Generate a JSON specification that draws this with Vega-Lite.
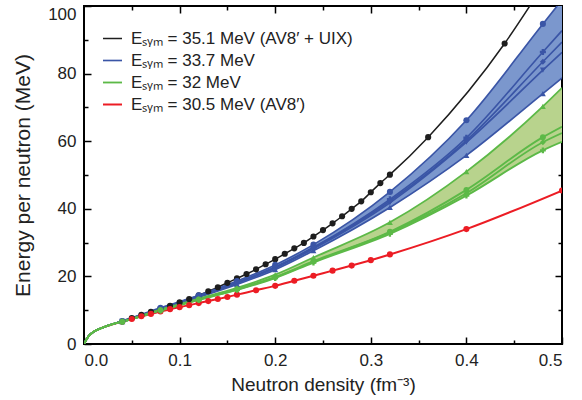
{
  "$schema": "https://vega.github.io/schema/vega-lite/v6.json",
  "width": 478,
  "height": 338,
  "autosize": "none",
  "padding": {"left": 84, "top": 6, "right": 20, "bottom": 56},
  "config": {
    "font": "Liberation Sans",
    "view": {"stroke": "#000000", "strokeWidth": 2},
    "axis": {"domain": false, "grid": false, "tickColor": "#000000", "tickWidth": 1.5, "labelColor": "#222222", "titleColor": "#222222", "labelFontSize": 17, "titleFontSize": 19, "titleFontWeight": "normal", "labelFont": "Liberation Sans", "titleFont": "Liberation Sans"}
  },
  "datasets": {
    "curves": [
      {"s":"A","c":"k","x":0,"e":0,"m":0},{"s":"A","c":"k","x":0.005,"e":2.4,"m":0},{"s":"A","c":"k","x":0.01,"e":3.6,"m":0},{"s":"A","c":"k","x":0.02,"e":4.9,"m":0},{"s":"A","c":"k","x":0.03,"e":5.9,"m":0},{"s":"A","c":"k","x":0.04,"e":6.8,"m":0},
      {"s":"A","c":"k","x":0.05,"e":7.7,"m":1},{"s":"A","c":"k","x":0.06,"e":8.6,"m":1},{"s":"A","c":"k","x":0.07,"e":9.5,"m":1},{"s":"A","c":"k","x":0.08,"e":10.4,"m":1},{"s":"A","c":"k","x":0.09,"e":11.3,"m":1},{"s":"A","c":"k","x":0.10,"e":12.3,"m":1},{"s":"A","c":"k","x":0.11,"e":13.3,"m":1},{"s":"A","c":"k","x":0.12,"e":14.4,"m":1},{"s":"A","c":"k","x":0.13,"e":15.6,"m":1},{"s":"A","c":"k","x":0.14,"e":16.8,"m":1},{"s":"A","c":"k","x":0.15,"e":18.1,"m":1},{"s":"A","c":"k","x":0.16,"e":19.4,"m":1},{"s":"A","c":"k","x":0.17,"e":20.7,"m":1},{"s":"A","c":"k","x":0.18,"e":22.1,"m":1},{"s":"A","c":"k","x":0.19,"e":23.6,"m":1},{"s":"A","c":"k","x":0.20,"e":25.1,"m":1},{"s":"A","c":"k","x":0.21,"e":26.7,"m":1},{"s":"A","c":"k","x":0.22,"e":28.3,"m":1},{"s":"A","c":"k","x":0.23,"e":29.9,"m":1},{"s":"A","c":"k","x":0.24,"e":31.8,"m":1},{"s":"A","c":"k","x":0.25,"e":33.7,"m":1},{"s":"A","c":"k","x":0.26,"e":35.7,"m":1},{"s":"A","c":"k","x":0.27,"e":37.8,"m":1},{"s":"A","c":"k","x":0.28,"e":40.0,"m":1},{"s":"A","c":"k","x":0.29,"e":42.2,"m":1},{"s":"A","c":"k","x":0.30,"e":44.9,"m":1},{"s":"A","c":"k","x":0.31,"e":47.6,"m":1},{"s":"A","c":"k","x":0.32,"e":50.1,"m":1},{"s":"A","c":"k","x":0.36,"e":61.2,"m":1},{"s":"A","c":"k","x":0.44,"e":88.9,"m":1},{"s":"A","c":"k","x":0.47,"e":101.6,"m":0},

      {"s":"D","c":"r","x":0,"e":0,"m":0},{"s":"D","c":"r","x":0.005,"e":2.4,"m":0},{"s":"D","c":"r","x":0.01,"e":3.6,"m":0},{"s":"D","c":"r","x":0.02,"e":4.9,"m":0},{"s":"D","c":"r","x":0.03,"e":5.8,"m":0},
      {"s":"D","c":"r","x":0.04,"e":6.6,"m":1},{"s":"D","c":"r","x":0.05,"e":7.4,"m":1},{"s":"D","c":"r","x":0.06,"e":8.2,"m":1},{"s":"D","c":"r","x":0.07,"e":8.9,"m":1},{"s":"D","c":"r","x":0.08,"e":9.6,"m":1},{"s":"D","c":"r","x":0.09,"e":10.3,"m":1},{"s":"D","c":"r","x":0.10,"e":10.9,"m":1},{"s":"D","c":"r","x":0.11,"e":11.5,"m":1},{"s":"D","c":"r","x":0.12,"e":12.1,"m":1},{"s":"D","c":"r","x":0.13,"e":12.7,"m":1},{"s":"D","c":"r","x":0.14,"e":13.3,"m":1},{"s":"D","c":"r","x":0.15,"e":13.9,"m":1},{"s":"D","c":"r","x":0.16,"e":14.6,"m":1},{"s":"D","c":"r","x":0.18,"e":15.9,"m":1},{"s":"D","c":"r","x":0.20,"e":17.2,"m":1},{"s":"D","c":"r","x":0.22,"e":18.7,"m":1},{"s":"D","c":"r","x":0.24,"e":20.2,"m":1},{"s":"D","c":"r","x":0.26,"e":21.7,"m":1},{"s":"D","c":"r","x":0.28,"e":23.2,"m":1},{"s":"D","c":"r","x":0.30,"e":24.8,"m":1},{"s":"D","c":"r","x":0.32,"e":26.5,"m":1},{"s":"D","c":"r","x":0.40,"e":34.0,"m":1},{"s":"D","c":"r","x":0.50,"e":45.4,"m":1},

      {"s":"B","c":"b1","x":0,"e":0,"m":0},{"s":"B","c":"b1","x":0.005,"e":2.4,"m":0},{"s":"B","c":"b1","x":0.01,"e":3.6,"m":0},{"s":"B","c":"b1","x":0.02,"e":4.9,"m":0},{"s":"B","c":"b1","x":0.03,"e":5.9,"m":0},
      {"s":"B","c":"b1","x":0.04,"e":6.8,"m":1},{"s":"B","c":"b1","x":0.08,"e":10.7,"m":1},{"s":"B","c":"b1","x":0.12,"e":14.4,"m":1},{"s":"B","c":"b1","x":0.16,"e":18.6,"m":1},{"s":"B","c":"b1","x":0.20,"e":23.4,"m":1},{"s":"B","c":"b1","x":0.24,"e":29.4,"m":1},{"s":"B","c":"b1","x":0.32,"e":45.0,"m":1},{"s":"B","c":"b1","x":0.40,"e":66.2,"m":1},{"s":"B","c":"b1","x":0.48,"e":94.7,"m":1},{"s":"B","c":"b1","x":0.50,"e":101.8,"m":0},
      {"s":"B","c":"b2","x":0,"e":0,"m":0},{"s":"B","c":"b2","x":0.005,"e":2.4,"m":0},{"s":"B","c":"b2","x":0.01,"e":3.6,"m":0},{"s":"B","c":"b2","x":0.02,"e":4.9,"m":0},{"s":"B","c":"b2","x":0.03,"e":5.9,"m":0},
      {"s":"B","c":"b2","x":0.04,"e":6.7,"m":1},{"s":"B","c":"b2","x":0.08,"e":10.5,"m":1},{"s":"B","c":"b2","x":0.12,"e":14.2,"m":1},{"s":"B","c":"b2","x":0.16,"e":18.2,"m":1},{"s":"B","c":"b2","x":0.20,"e":22.8,"m":1},{"s":"B","c":"b2","x":0.24,"e":28.6,"m":1},{"s":"B","c":"b2","x":0.32,"e":42.8,"m":1},{"s":"B","c":"b2","x":0.40,"e":61.0,"m":1},{"s":"B","c":"b2","x":0.48,"e":86.4,"m":1},{"s":"B","c":"b2","x":0.50,"e":92.7,"m":0},
      {"s":"B","c":"b3","x":0,"e":0,"m":0},{"s":"B","c":"b3","x":0.005,"e":2.4,"m":0},{"s":"B","c":"b3","x":0.01,"e":3.6,"m":0},{"s":"B","c":"b3","x":0.02,"e":4.9,"m":0},{"s":"B","c":"b3","x":0.03,"e":5.9,"m":0},
      {"s":"B","c":"b3","x":0.04,"e":6.7,"m":1},{"s":"B","c":"b3","x":0.08,"e":10.4,"m":1},{"s":"B","c":"b3","x":0.12,"e":14.1,"m":1},{"s":"B","c":"b3","x":0.16,"e":18.1,"m":1},{"s":"B","c":"b3","x":0.20,"e":22.6,"m":1},{"s":"B","c":"b3","x":0.24,"e":28.4,"m":1},{"s":"B","c":"b3","x":0.32,"e":42.3,"m":1},{"s":"B","c":"b3","x":0.40,"e":60.2,"m":1},{"s":"B","c":"b3","x":0.48,"e":83.5,"m":1},{"s":"B","c":"b3","x":0.50,"e":89.3,"m":0},
      {"s":"B","c":"b4","x":0,"e":0,"m":0},{"s":"B","c":"b4","x":0.005,"e":2.4,"m":0},{"s":"B","c":"b4","x":0.01,"e":3.6,"m":0},{"s":"B","c":"b4","x":0.02,"e":4.9,"m":0},{"s":"B","c":"b4","x":0.03,"e":5.9,"m":0},
      {"s":"B","c":"b4","x":0.04,"e":6.7,"m":1},{"s":"B","c":"b4","x":0.08,"e":10.4,"m":1},{"s":"B","c":"b4","x":0.12,"e":14.0,"m":1},{"s":"B","c":"b4","x":0.16,"e":18.0,"m":1},{"s":"B","c":"b4","x":0.20,"e":22.5,"m":1},{"s":"B","c":"b4","x":0.24,"e":28.2,"m":1},{"s":"B","c":"b4","x":0.32,"e":41.8,"m":1},{"s":"B","c":"b4","x":0.40,"e":59.7,"m":1},{"s":"B","c":"b4","x":0.48,"e":81.0,"m":1},{"s":"B","c":"b4","x":0.50,"e":86.3,"m":0},
      {"s":"B","c":"b5","x":0,"e":0,"m":0},{"s":"B","c":"b5","x":0.005,"e":2.4,"m":0},{"s":"B","c":"b5","x":0.01,"e":3.6,"m":0},{"s":"B","c":"b5","x":0.02,"e":4.9,"m":0},{"s":"B","c":"b5","x":0.03,"e":5.9,"m":0},
      {"s":"B","c":"b5","x":0.04,"e":6.6,"m":1},{"s":"B","c":"b5","x":0.08,"e":10.2,"m":1},{"s":"B","c":"b5","x":0.12,"e":13.8,"m":1},{"s":"B","c":"b5","x":0.16,"e":17.6,"m":1},{"s":"B","c":"b5","x":0.20,"e":22.0,"m":1},{"s":"B","c":"b5","x":0.24,"e":27.6,"m":1},{"s":"B","c":"b5","x":0.32,"e":40.4,"m":1},{"s":"B","c":"b5","x":0.40,"e":55.8,"m":1},{"s":"B","c":"b5","x":0.48,"e":74.1,"m":1},{"s":"B","c":"b5","x":0.50,"e":78.7,"m":0},

      {"s":"C","c":"g1","x":0,"e":0,"m":0},{"s":"C","c":"g1","x":0.005,"e":2.4,"m":0},{"s":"C","c":"g1","x":0.01,"e":3.6,"m":0},{"s":"C","c":"g1","x":0.02,"e":4.9,"m":0},{"s":"C","c":"g1","x":0.03,"e":5.9,"m":0},
      {"s":"C","c":"g1","x":0.04,"e":6.7,"m":1},{"s":"C","c":"g1","x":0.08,"e":10.2,"m":1},{"s":"C","c":"g1","x":0.12,"e":13.4,"m":1},{"s":"C","c":"g1","x":0.16,"e":16.6,"m":1},{"s":"C","c":"g1","x":0.20,"e":20.5,"m":1},{"s":"C","c":"g1","x":0.24,"e":25.6,"m":1},{"s":"C","c":"g1","x":0.32,"e":36.0,"m":1},{"s":"C","c":"g1","x":0.40,"e":51.0,"m":1},{"s":"C","c":"g1","x":0.48,"e":70.3,"m":1},{"s":"C","c":"g1","x":0.50,"e":75.8,"m":0},
      {"s":"C","c":"g2","x":0,"e":0,"m":0},{"s":"C","c":"g2","x":0.005,"e":2.4,"m":0},{"s":"C","c":"g2","x":0.01,"e":3.6,"m":0},{"s":"C","c":"g2","x":0.02,"e":4.9,"m":0},{"s":"C","c":"g2","x":0.03,"e":5.9,"m":0},
      {"s":"C","c":"g2","x":0.04,"e":6.6,"m":1},{"s":"C","c":"g2","x":0.08,"e":10.0,"m":1},{"s":"C","c":"g2","x":0.12,"e":13.2,"m":1},{"s":"C","c":"g2","x":0.16,"e":16.2,"m":1},{"s":"C","c":"g2","x":0.20,"e":19.8,"m":1},{"s":"C","c":"g2","x":0.24,"e":24.5,"m":1},{"s":"C","c":"g2","x":0.32,"e":33.2,"m":1},{"s":"C","c":"g2","x":0.40,"e":45.6,"m":1},{"s":"C","c":"g2","x":0.48,"e":61.2,"m":1},{"s":"C","c":"g2","x":0.50,"e":64.3,"m":0},
      {"s":"C","c":"g3","x":0,"e":0,"m":0},{"s":"C","c":"g3","x":0.005,"e":2.4,"m":0},{"s":"C","c":"g3","x":0.01,"e":3.6,"m":0},{"s":"C","c":"g3","x":0.02,"e":4.9,"m":0},{"s":"C","c":"g3","x":0.03,"e":5.9,"m":0},
      {"s":"C","c":"g3","x":0.04,"e":6.6,"m":1},{"s":"C","c":"g3","x":0.08,"e":10.0,"m":1},{"s":"C","c":"g3","x":0.12,"e":13.1,"m":1},{"s":"C","c":"g3","x":0.16,"e":16.1,"m":1},{"s":"C","c":"g3","x":0.20,"e":19.7,"m":1},{"s":"C","c":"g3","x":0.24,"e":24.3,"m":1},{"s":"C","c":"g3","x":0.32,"e":33.0,"m":1},{"s":"C","c":"g3","x":0.40,"e":44.6,"m":1},{"s":"C","c":"g3","x":0.48,"e":59.7,"m":1},{"s":"C","c":"g3","x":0.50,"e":62.4,"m":0},
      {"s":"C","c":"g4","x":0,"e":0,"m":0},{"s":"C","c":"g4","x":0.005,"e":2.4,"m":0},{"s":"C","c":"g4","x":0.01,"e":3.6,"m":0},{"s":"C","c":"g4","x":0.02,"e":4.9,"m":0},{"s":"C","c":"g4","x":0.03,"e":5.9,"m":0},
      {"s":"C","c":"g4","x":0.04,"e":6.6,"m":1},{"s":"C","c":"g4","x":0.08,"e":9.9,"m":1},{"s":"C","c":"g4","x":0.12,"e":13.0,"m":1},{"s":"C","c":"g4","x":0.16,"e":16.0,"m":1},{"s":"C","c":"g4","x":0.20,"e":19.5,"m":1},{"s":"C","c":"g4","x":0.24,"e":24.1,"m":1},{"s":"C","c":"g4","x":0.32,"e":32.6,"m":1},{"s":"C","c":"g4","x":0.40,"e":43.9,"m":1},{"s":"C","c":"g4","x":0.48,"e":57.3,"m":1},{"s":"C","c":"g4","x":0.50,"e":59.8,"m":0}
    ]
  },
  "data": {"name": "curves"},
  "resolve": {"axis": {"x": "independent", "y": "independent"}},
  "layer": [
    {
      "transform": [
        {"filter": "datum.s == 'B'"},
        {"aggregate": [{"op": "min", "field": "e", "as": "lo"}, {"op": "max", "field": "e", "as": "hi"}], "groupby": ["x"]}
      ],
      "mark": {"type": "area", "interpolate": "monotone", "color": "#7b97cd", "clip": true},
      "encoding": {
        "x": {"field": "x", "type": "quantitative", "scale": {"domain": [0, 0.5], "nice": false, "zero": false},
              "axis": {"orient": "bottom", "values": [0, 0.1, 0.2, 0.3, 0.4, 0.5], "format": ".1f", "tickSize": -7, "labelPadding": 15, "title": "Neutron density (fm⁻³)", "titlePadding": 7}},
        "y": {"field": "lo", "type": "quantitative", "scale": {"domain": [0, 100], "nice": false},
              "axis": {"orient": "left", "values": [0, 20, 40, 60, 80, 100], "tickSize": -7, "labelPadding": 15,
                       "labelBaseline": {"condition": {"test": "datum.value == 100", "value": "top"}, "value": "middle"},
                       "title": "Energy per neutron (MeV)", "titleFontSize": 21, "titlePadding": 14}},
        "y2": {"field": "hi"}
      }
    },
    {
      "transform": [
        {"filter": "datum.s == 'C'"},
        {"aggregate": [{"op": "min", "field": "e", "as": "lo"}, {"op": "max", "field": "e", "as": "hi"}], "groupby": ["x"]}
      ],
      "mark": {"type": "area", "interpolate": "monotone", "color": "#b8d38d", "clip": true},
      "encoding": {
        "x": {"field": "x", "type": "quantitative", "axis": {"orient": "top", "values": [0.1, 0.2, 0.3, 0.4], "tickSize": -7, "labels": false, "title": null}},
        "y": {"field": "lo", "type": "quantitative", "axis": {"orient": "right", "values": [20, 40, 60, 80], "tickSize": -7, "labels": false, "title": null}},
        "y2": {"field": "hi"}
      }
    },
    {
      "mark": {"type": "line", "interpolate": "monotone", "clip": true},
      "encoding": {
        "x": {"field": "x", "type": "quantitative", "axis": {"orient": "bottom", "values": [0.05, 0.15, 0.25, 0.35, 0.45], "tickSize": -4, "labels": false, "title": null}},
        "y": {"field": "e", "type": "quantitative", "axis": {"orient": "left", "values": [10, 30, 50, 70, 90], "tickSize": -4, "labels": false, "title": null}},
        "detail": {"field": "c"},
        "color": {"field": "s", "type": "nominal",
                  "scale": {"domain": ["A", "B", "C", "D"], "range": ["#1e1e1e", "#3a55a6", "#5cb947", "#ec1c24"]},
                  "legend": {"orient": "none", "legendX": 18, "legendY": 22, "title": null, "symbolType": "stroke", "symbolSize": 360, "symbolStrokeWidth": 2, "labelFontSize": 17, "labelFont": "Liberation Sans", "labelColor": "#222222", "labelOffset": 8, "rowPadding": 3, "labelLimit": 400,
                             "labelExpr": "datum.value == 'A' ? 'Eₛᵧₘ = 35.1 MeV (AV8′ + UIX)' : datum.value == 'B' ? 'Eₛᵧₘ = 33.7 MeV' : datum.value == 'C' ? 'Eₛᵧₘ = 32 MeV' : 'Eₛᵧₘ = 30.5 MeV (AV8′)'"}},
        "strokeWidth": {"field": "s", "type": "nominal", "scale": {"domain": ["A", "B", "C", "D"], "range": [1.5, 2, 2, 1.6]}, "legend": null}
      }
    },
    {
      "transform": [{"filter": "datum.m == 1"}],
      "mark": {"type": "point", "filled": true, "opacity": 1, "clip": true},
      "encoding": {
        "x": {"field": "x", "type": "quantitative", "axis": {"orient": "top", "values": [0.05, 0.15, 0.25, 0.35, 0.45], "tickSize": -4, "labels": false, "title": null}},
        "y": {"field": "e", "type": "quantitative", "axis": {"orient": "right", "values": [10, 30, 50, 70, 90], "tickSize": -4, "labels": false, "title": null}},
        "color": {"field": "s", "type": "nominal", "legend": null},
        "shape": {"field": "c", "type": "nominal", "legend": null,
                  "scale": {"domain": ["k", "r", "b1", "b2", "b3", "b4", "b5", "g1", "g2", "g3", "g4"],
                            "range": ["circle", "circle", "circle", "cross", "diamond", "triangle-down", "triangle-up", "triangle-up", "circle", "diamond", "cross"]}},
        "size": {"field": "c", "type": "nominal", "legend": null,
                 "scale": {"domain": ["k", "r", "b1", "b2", "b3", "b4", "b5", "g1", "g2", "g3", "g4"],
                           "range": [38, 34, 90, 60, 60, 55, 55, 55, 80, 60, 60]}}
      }
    }
  ]
}
